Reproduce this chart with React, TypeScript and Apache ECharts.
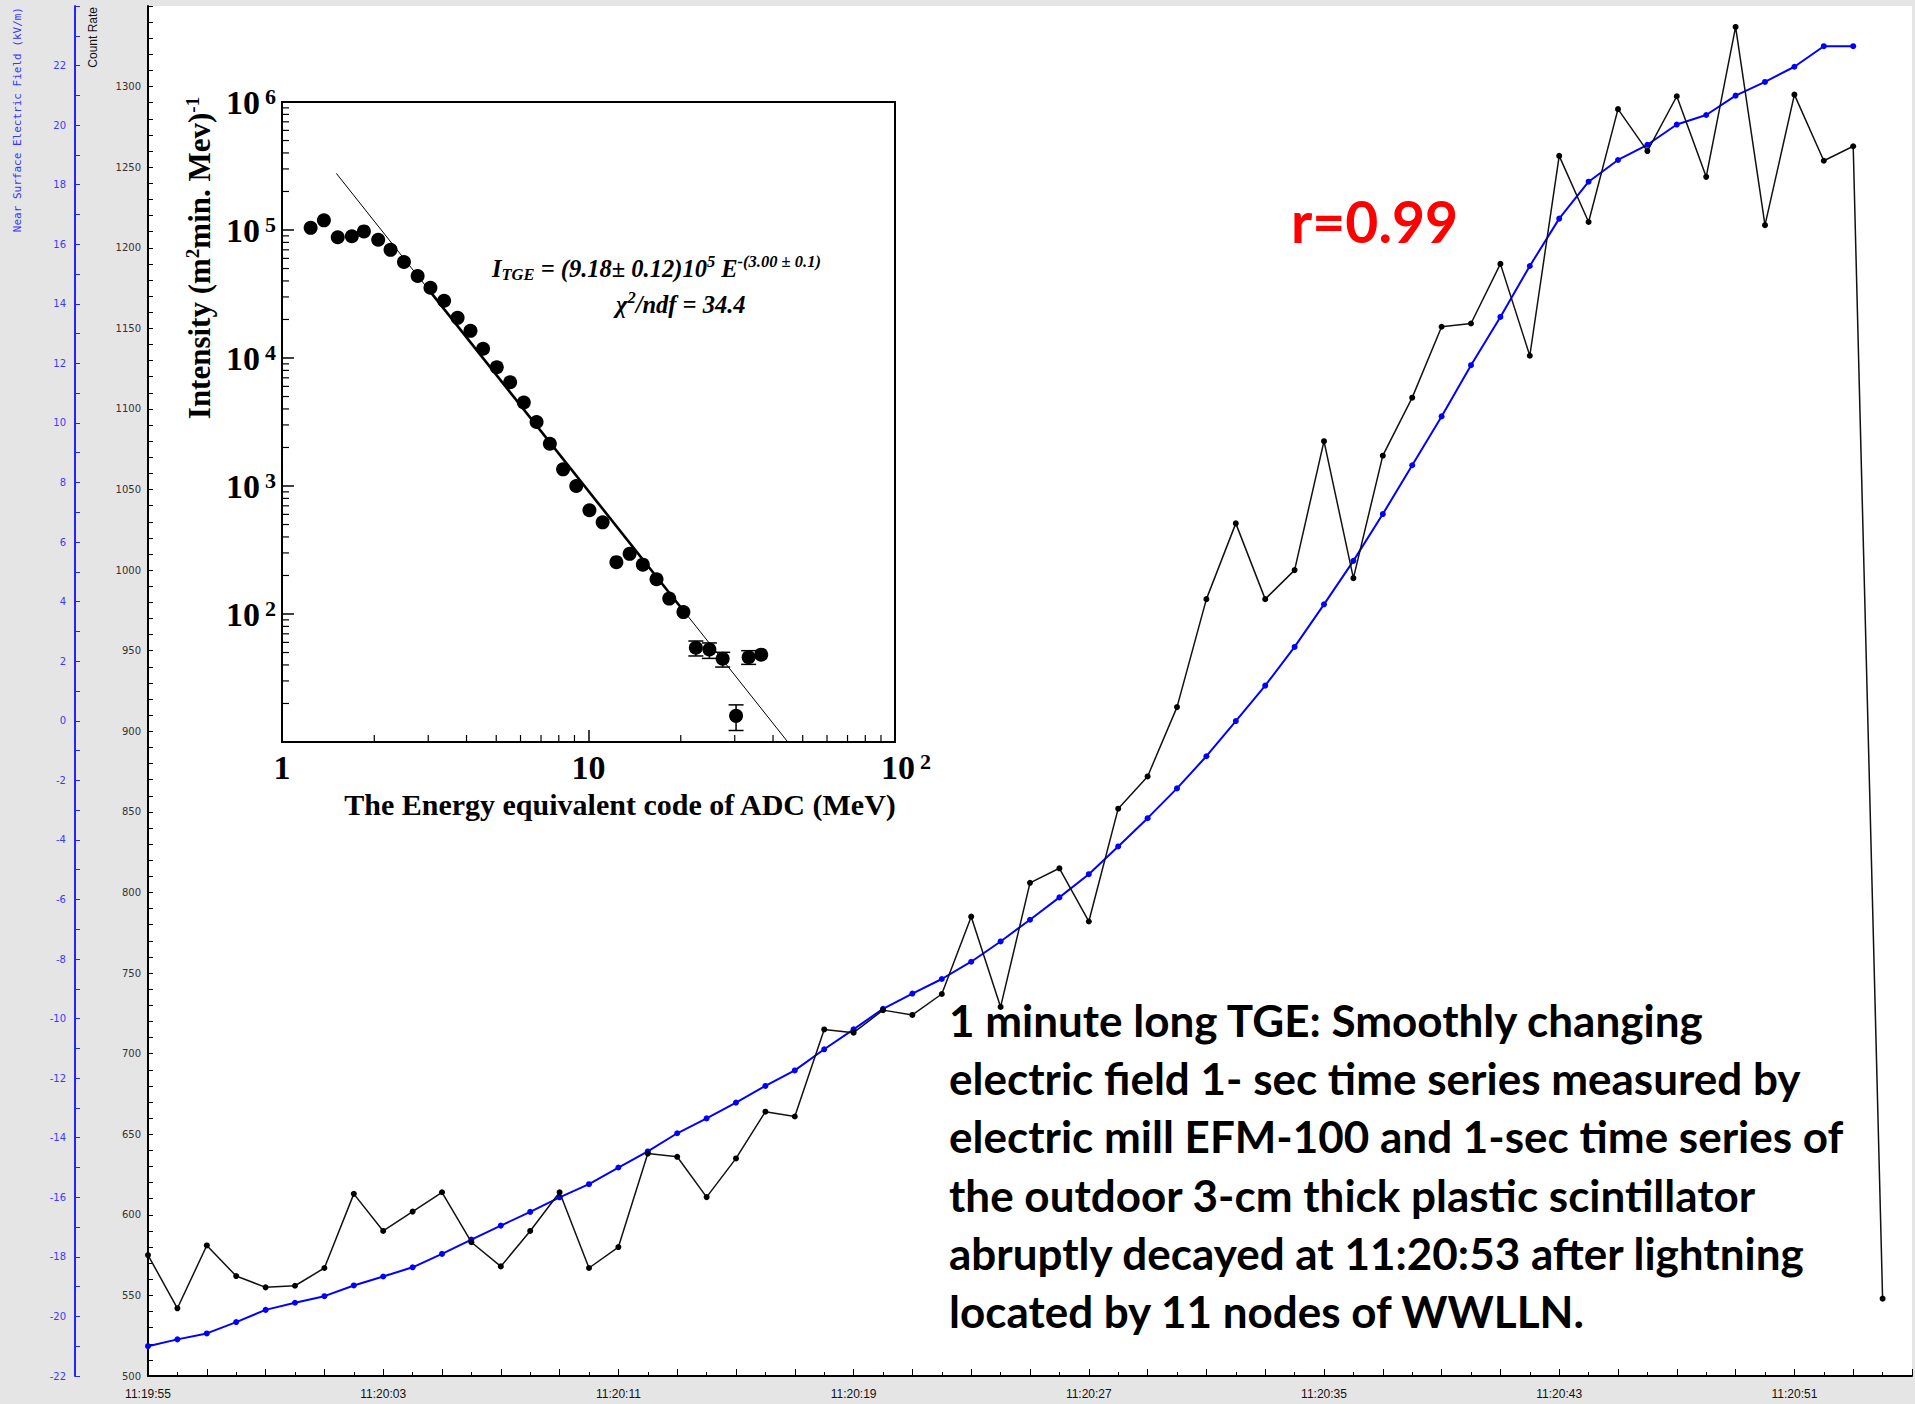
import React, { useEffect, useRef } from 'react';
import * as echarts from 'echarts';

// ---- Main time series (1 s steps starting 11:19:55) ----
const countRate = [575, 542, 581, 562, 555, 556, 567, 613, 590, 602, 614, 583, 568, 590, 614, 567, 580, 638, 636, 611, 635, 664, 661, 715, 713, 727, 724, 737, 785, 729, 806, 815, 782, 852, 872, 915, 982, 1029, 982, 1000, 1080, 995, 1071, 1107, 1151, 1153, 1190, 1133, 1257, 1216, 1286, 1260, 1294, 1244, 1337, 1214, 1295, 1254, 1263, 548];
const eField = [-21.0, -20.77, -20.57, -20.19, -19.78, -19.54, -19.32, -18.96, -18.66, -18.35, -17.9, -17.42, -16.95, -16.49, -16.0, -15.56, -15.0, -14.46, -13.85, -13.35, -12.82, -12.26, -11.74, -11.03, -10.36, -9.67, -9.16, -8.67, -8.09, -7.41, -6.68, -5.93, -5.15, -4.22, -3.27, -2.27, -1.19, -0.01, 1.18, 2.48, 3.91, 5.37, 6.94, 8.58, 10.22, 11.94, 13.56, 15.27, 16.86, 18.1, 18.83, 19.34, 20.02, 20.34, 20.99, 21.45, 21.96, 22.65, 22.65];
const timeLabels = ['11:19:55', '11:20:03', '11:20:11', '11:20:19', '11:20:27', '11:20:35', '11:20:43', '11:20:51'];
const labelStep = 8;

// ---- Inset spectrum ----
const adcEnergy = [1.24, 1.37, 1.52, 1.69, 1.85, 2.06, 2.26, 2.5, 2.77, 3.05, 3.38, 3.74, 4.12, 4.53, 5.02, 5.55, 6.15, 6.77, 7.48, 8.26, 9.12, 10.07, 11.12, 12.33, 13.62, 15.04, 16.67, 18.34, 20.4, 22.4, 24.8, 27.4, 30.3, 33.3, 36.6];
const intensity = [104000, 119000, 87700, 89300, 97500, 84000, 70000, 56200, 43700, 35400, 28000, 20600, 16300, 11800, 8470, 6470, 4490, 3160, 2140, 1350, 1000, 647, 520, 254, 295, 243, 187, 132, 103.5, 54.5, 52.8, 44.7, 16.0, 45.9, 48.1];
const errEnergy = [22.4, 24.8, 27.4, 30.3, 33.3];
const errLow = [47, 45, 38.5, 12.3, 40.4];
const errHigh = [61.5, 59.4, 50.2, 19.5, 51.7];
const fitThin = [[1.504, 277000], [44.7, 10]];
const fitThick = [[3.0, 34500], [21, 97.4]];
const minorMultipliers = [2, 3, 4, 5, 6, 7, 8, 9];
const xDecades = [1, 10];
const yDecades = [10, 100, 1000, 10000, 100000];

const annotationLines = [
  '1 minute long TGE: Smoothly changing',
  'electric field 1- sec time series measured by',
  'electric mill EFM-100 and 1-sec time series of',
  'the outdoor 3-cm thick plastic scintillator',
  'abruptly decayed at 11:20:53 after lightning',
  'located by 11 nodes of WWLLN.',
];

const SERIF = "'Liberation Serif', 'Times New Roman', serif";

export default function App() {
  const ref = useRef<HTMLDivElement>(null);
  useEffect(() => {
    document.body.style.margin = '0';
    const chart = echarts.init(ref.current!, null, { renderer: 'svg' });
    const minorX: number[][] = [];
    xDecades.forEach((d) => minorMultipliers.forEach((m) => minorX.push([m * d, 10])));
    const minorY: number[][] = [];
    yDecades.forEach((d) => minorMultipliers.forEach((m) => minorY.push([1, m * d])));

    const boldSerif = (size: number, extra: any = {}) => ({ fontFamily: SERIF, fontWeight: 'bold', fontSize: size, color: '#000', fill: '#000', ...extra });

    const option: any = {
      animation: false,
      backgroundColor: '#e5e5e5',
      grid: [
        { left: 148, top: 6, right: 2, bottom: 28, show: true, backgroundColor: '#ffffff', borderWidth: 0 },
        { left: 282, top: 102, width: 613, height: 640, show: true, backgroundColor: '#ffffff', borderColor: '#000', borderWidth: 2 },
      ],
      xAxis: [
        {
          type: 'value', gridIndex: 0, min: 0, max: 60, interval: 2,
          axisLine: { show: true, onZero: false, lineStyle: { color: '#000', width: 2 } },
          axisTick: { show: true, inside: true, length: 7, lineStyle: { color: '#000', width: 1 } },
          minorTick: { show: true, splitNumber: 2, length: 4, lineStyle: { color: '#000', width: 1 } },
          splitLine: { show: false },
          axisLabel: {
            margin: 12, fontSize: 12, color: '#111',
            fontFamily: "'Liberation Sans Narrow', 'Liberation Sans', sans-serif",
            formatter: (v: number) => (v % labelStep === 0 ? timeLabels[v / labelStep] || '' : ''),
          },
        },
        {
          type: 'log', gridIndex: 1, min: 1, max: 100, logBase: 10,
          axisLine: { show: true, onZero: false, lineStyle: { color: '#000', width: 2 } },
          axisTick: { show: true, inside: true, length: 12, lineStyle: { color: '#000', width: 1.5 } },
          splitLine: { show: false },
          axisLabel: {
            margin: 8, fontFamily: SERIF, fontSize: 20, fontWeight: 'bold', color: '#000',
            formatter: (v: number) => {
              const e = Math.round(Math.log10(v));
              if (e === 0) return '{b|1}';
              if (e === 1) return '{b|10}';
              return '{p|}{b|10} {s|' + e + '}';
            },
            rich: {
              b: boldSerif(34, { lineHeight: 34 }),
              s: boldSerif(22, { lineHeight: 8, verticalAlign: 'top' }),
              p: { width: 22 },
            },
          },
        },
      ],
      yAxis: [
        {
          type: 'value', gridIndex: 0, position: 'left', min: 500, max: 1350, interval: 50,
          axisLine: { show: true, onZero: false, lineStyle: { color: '#000', width: 2 } },
          axisTick: { show: true, inside: true, length: 5, lineStyle: { color: '#000' } },
          minorTick: { show: true, splitNumber: 5, length: 5, lineStyle: { color: '#000' } },
          splitLine: { show: false },
          axisLabel: { margin: 7, fontSize: 10, fontFamily: "'DejaVu Sans', sans-serif", color: '#333', showMaxLabel: false, formatter: (v: number) => String(v) },
        },
        {
          type: 'value', gridIndex: 0, position: 'left', offset: 73, min: -22, max: 24, interval: 2,
          axisLine: { show: true, onZero: false, lineStyle: { color: '#2424ff', width: 2 } },
          axisTick: { show: true, inside: true, length: 5, lineStyle: { color: '#2424ff' } },
          minorTick: { show: true, splitNumber: 2, length: 5, lineStyle: { color: '#2424ff' } },
          splitLine: { show: false },
          axisLabel: { margin: 9, fontSize: 10, fontFamily: "'DejaVu Sans', sans-serif", color: '#3a3aff', showMaxLabel: false, formatter: (v: number) => String(v) },
        },
        {
          type: 'log', gridIndex: 1, min: 10, max: 1000000, logBase: 10,
          axisLine: { show: true, onZero: false, lineStyle: { color: '#000', width: 2 } },
          axisTick: { show: true, inside: true, length: 12, lineStyle: { color: '#000', width: 1.5 } },
          splitLine: { show: false },
          axisLabel: {
            margin: 6, showMinLabel: false, fontFamily: SERIF, fontSize: 20, fontWeight: 'bold', color: '#000',
            formatter: (v: number) => '{b|10} {s|' + Math.round(Math.log10(v)) + '}',
            rich: {
              b: boldSerif(34, { lineHeight: 34 }),
              s: boldSerif(22, { lineHeight: 8, verticalAlign: 'top' }),
            },
          },
        },
      ],
      series: [
        {
          type: 'line', name: 'Electric field', xAxisIndex: 0, yAxisIndex: 1,
          data: eField.map((v, i) => [i, v]),
          symbol: 'circle', symbolSize: 6, showSymbol: true, showAllSymbol: true,
          itemStyle: { color: '#0000ff' }, lineStyle: { color: '#0000ff', width: 2 }, z: 3,
        },
        {
          type: 'line', name: 'Count rate', xAxisIndex: 0, yAxisIndex: 0,
          data: countRate.map((v, i) => [i, v]),
          symbol: 'circle', symbolSize: 6, showSymbol: true, showAllSymbol: true,
          itemStyle: { color: '#000' }, lineStyle: { color: '#111', width: 1.5 }, z: 4,
        },
        {
          type: 'line', xAxisIndex: 1, yAxisIndex: 2, data: fitThin, symbol: 'none',
          lineStyle: { color: '#000', width: 1 }, z: 5,
        },
        {
          type: 'line', xAxisIndex: 1, yAxisIndex: 2, data: fitThick, symbol: 'none',
          lineStyle: { color: '#000', width: 2.6 }, z: 5,
        },
        {
          type: 'custom', xAxisIndex: 1, yAxisIndex: 2, silent: true, clip: false,
          data: errEnergy.map((e, i) => [e, errLow[i], errHigh[i]]),
          encode: { x: 0, y: [1, 2] },
          renderItem: (params: any, api: any) => {
            const x = api.value(0);
            const lo = api.coord([x, api.value(1)]);
            const hi = api.coord([x, api.value(2)]);
            const hw = 7.5;
            const st = { stroke: '#000', lineWidth: 1.5 };
            return {
              type: 'group',
              children: [
                { type: 'line', shape: { x1: lo[0], y1: lo[1], x2: hi[0], y2: hi[1] }, style: st },
                { type: 'line', shape: { x1: lo[0] - hw, y1: lo[1], x2: lo[0] + hw, y2: lo[1] }, style: st },
                { type: 'line', shape: { x1: hi[0] - hw, y1: hi[1], x2: hi[0] + hw, y2: hi[1] }, style: st },
              ],
            };
          },
          z: 6,
        },
        {
          type: 'scatter', xAxisIndex: 1, yAxisIndex: 2,
          data: adcEnergy.map((e, i) => [e, intensity[i]]),
          symbol: 'circle', symbolSize: 14, itemStyle: { color: '#000', opacity: 1 }, z: 7,
        },
        {
          type: 'custom', xAxisIndex: 1, yAxisIndex: 2, silent: true, clip: false, data: minorX,
          renderItem: (params: any, api: any) => {
            const p = api.coord([api.value(0), api.value(1)]);
            return { type: 'line', shape: { x1: p[0], y1: p[1], x2: p[0], y2: p[1] - 7 }, style: { stroke: '#000', lineWidth: 1.2 } };
          },
          z: 6,
        },
        {
          type: 'custom', xAxisIndex: 1, yAxisIndex: 2, silent: true, clip: false, data: minorY,
          renderItem: (params: any, api: any) => {
            const p = api.coord([api.value(0), api.value(1)]);
            return { type: 'line', shape: { x1: p[0], y1: p[1], x2: p[0] + 7, y2: p[1] }, style: { stroke: '#000', lineWidth: 1.2 } };
          },
          z: 6,
        },
      ],
      graphic: [
        {
          type: 'text', x: 17, y: 7, rotation: Math.PI / 2, z: 20,
          style: { text: 'Near Surface Electric Field (kV/m)', fill: '#3535ff', fontFamily: "'DejaVu Sans Mono', monospace", fontSize: 11, align: 'right', verticalAlign: 'middle' },
        },
        {
          type: 'text', x: 93, y: 7, rotation: Math.PI / 2, z: 20,
          style: { text: 'Count Rate', fill: '#111', fontFamily: "'Liberation Sans', sans-serif", fontSize: 12, align: 'right', verticalAlign: 'middle' },
        },
        {
          type: 'text', x: 199, y: 258, rotation: Math.PI / 2, z: 20,
          style: {
            text: '{t|Intensity (m}{s|2}{t|min. Mev)}{s|-1}', align: 'center', verticalAlign: 'middle',
            rich: { t: boldSerif(31, { lineHeight: 32 }), s: boldSerif(19, { lineHeight: 8, verticalAlign: 'top' }) },
          },
        },
        {
          type: 'text', x: 620, y: 804, z: 20,
          style: { text: 'The Energy equivalent code of ADC (MeV)', fill: '#000', fontFamily: SERIF, fontWeight: 'bold', fontSize: 30, align: 'center', verticalAlign: 'middle' },
        },
        {
          type: 'text', x: 492, y: 268, z: 20,
          style: {
            text: '{i|I}{sub|TGE}{i| = (9.18± 0.12)10}{sup|5}{i| E}{sup|-(3.00 ± 0.1)}', align: 'left', verticalAlign: 'middle',
            rich: {
              i: boldSerif(24.5, { fontStyle: 'italic', lineHeight: 30 }),
              sub: boldSerif(16.5, { fontStyle: 'italic', lineHeight: 8, verticalAlign: 'bottom' }),
              sup: boldSerif(16.5, { fontStyle: 'italic', lineHeight: 8, verticalAlign: 'top' }),
            },
          },
        },
        {
          type: 'text', x: 616, y: 304, z: 20,
          style: {
            text: '{i|χ}{sup|2}{i|/ndf = 34.4}', align: 'left', verticalAlign: 'middle',
            rich: {
              i: boldSerif(24.5, { fontStyle: 'italic', lineHeight: 30 }),
              sup: boldSerif(16.5, { fontStyle: 'italic', lineHeight: 8, verticalAlign: 'top' }),
            },
          },
        },
        {
          type: 'text', x: 1291, y: 221, z: 20,
          style: { text: 'r=0.99', fill: '#ff0000', fontFamily: "Lato, 'Open Sans', sans-serif", fontWeight: 'bold', fontSize: 57, align: 'left', verticalAlign: 'middle' },
        },
        ...annotationLines.map((t, i) => ({
          type: 'text', x: 949, y: 1020 + i * 58.2, z: 20,
          style: { text: t, fill: '#000', fontFamily: "Lato, 'Open Sans', sans-serif", fontWeight: 'bold', fontSize: 44, align: 'left', verticalAlign: 'middle' },
        })),
      ],
    };
    chart.setOption(option);
    return () => chart.dispose();
  }, []);
  return <div ref={ref} style={{ position: 'absolute', left: 0, top: 0, width: 1915, height: 1404 }} />;
}
